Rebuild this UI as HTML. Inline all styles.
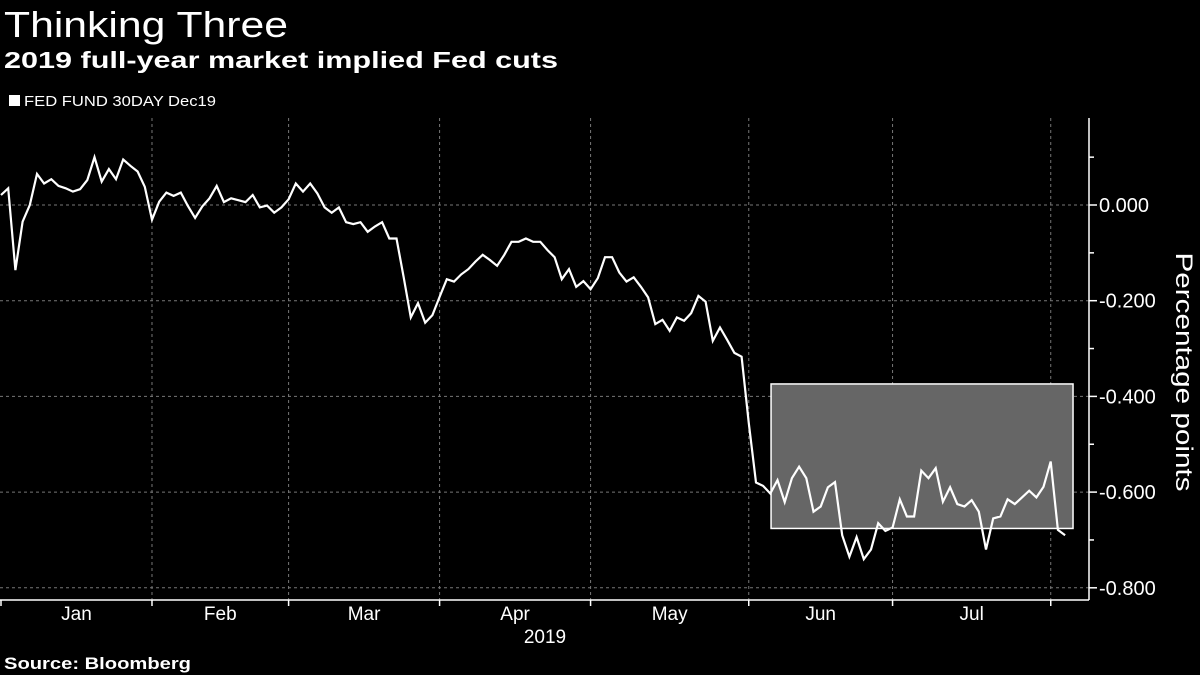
<!DOCTYPE html>
<html><head><meta charset="utf-8"><style>
html,body{margin:0;padding:0;background:#000;width:1200px;height:675px;overflow:hidden;font-family:"Liberation Sans",sans-serif;color:#fff}
svg{position:absolute;left:0;top:0}
</style></head><body>
<svg width="1200" height="675">
<text x="4" y="37" font-size="36" fill="#fff" textLength="284" lengthAdjust="spacingAndGlyphs">Thinking Three</text>
<text x="4" y="68" font-size="23" font-weight="bold" fill="#fff" textLength="554" lengthAdjust="spacingAndGlyphs">2019 full-year market implied Fed cuts</text>
<rect x="9" y="95" width="11" height="11" fill="#fff"/>
<text x="24" y="106" font-size="15" fill="#fff" textLength="192" lengthAdjust="spacingAndGlyphs">FED FUND 30DAY Dec19</text>
<g id="grid"></g>
<rect id="hl" fill="#666" stroke="#fff" stroke-width="1.5"/>
<polyline id="line" fill="none" stroke="#fff" stroke-width="2.2" stroke-linejoin="miter"/>
<g id="axes"></g>
<text transform="translate(1176,372) rotate(90)" text-anchor="middle" font-size="24" fill="#fff" textLength="239" lengthAdjust="spacingAndGlyphs">Percentage points</text>
<text x="545" y="643" text-anchor="middle" font-size="19" fill="#fff">2019</text>
<text x="4" y="669" font-size="17" font-weight="bold" fill="#fff" textLength="187" lengthAdjust="spacingAndGlyphs">Source: Bloomberg</text>
</svg>
<script>
const values=[0.021,0.035,-0.136,-0.035,0,0.065,0.045,0.054,0.040,0.035,0.028,0.033,0.052,0.100,0.049,0.075,0.054,0.095,0.082,0.070,0.038,
-0.031,0.007,0.026,0.019,0.026,-0.002,-0.027,-0.003,0.014,0.040,0.006,0.014,0.010,0.006,0.021,-0.005,-0.001,-0.016,-0.005,
0.012,0.045,0.028,0.045,0.024,-0.005,-0.016,-0.005,-0.036,-0.040,-0.036,-0.056,-0.045,-0.036,-0.070,-0.070,-0.150,-0.235,-0.205,-0.246,-0.230,
-0.192,-0.155,-0.160,-0.145,-0.134,-0.118,-0.104,-0.115,-0.127,-0.104,-0.077,-0.077,-0.070,-0.077,-0.077,-0.094,-0.109,-0.155,-0.134,-0.171,-0.159,
-0.176,-0.153,-0.109,-0.109,-0.141,-0.160,-0.151,-0.171,-0.193,-0.249,-0.240,-0.263,-0.235,-0.242,-0.226,-0.190,-0.202,-0.284,-0.256,-0.282,-0.309,-0.317,
-0.456,-0.580,-0.587,-0.603,-0.575,-0.621,-0.571,-0.547,-0.571,-0.641,-0.630,-0.590,-0.579,-0.690,-0.735,-0.694,-0.740,-0.720,
-0.665,-0.681,-0.674,-0.615,-0.651,-0.651,-0.555,-0.571,-0.550,-0.620,-0.590,-0.625,-0.630,-0.617,-0.641,-0.720,-0.655,-0.651,-0.615,-0.625,-0.611,-0.597,-0.611,-0.589,-0.536,
-0.679,-0.690];
const monthLabels=["Jan","Feb","Mar","Apr","May","Jun","Jul"];
const monthStartIdx=[0,21,40,61,82,104,124,146];
const yTicks=[0,-0.2,-0.4,-0.6,-0.8];
const yTickLabels=["0.000","-0.200","-0.400","-0.600","-0.800"];
const yMinor=[0.1,-0.1,-0.3,-0.5,-0.7];
const boxRange=[107.1,149.1,-0.374,-0.676];
const NS="http://www.w3.org/2000/svg";
const X=i=>1+i*7.19;
const Y=v=>205-v*478.5;
const grid=document.getElementById('grid'),axes=document.getElementById('axes');
function mk(p,tag,a){const e=document.createElementNS(NS,tag);for(const k in a)e.setAttribute(k,a[k]);p.appendChild(e);return e;}
yTicks.forEach((t,i)=>{
 const g=mk(grid,'line',{x1:0,x2:1089,y1:Y(t),y2:Y(t),stroke:'#777','stroke-width':1,'stroke-dasharray':'3,3'});
 
 
 const tk=mk(axes,'line',{x1:1089,x2:1097,y1:Y(t),y2:Y(t),stroke:'#fff','stroke-width':1.5});
 
 
 const tx=mk(axes,'text',{x:1099,y:Y(t)+7,'font-size':20,fill:'#fff'});
 tx.textContent=yTickLabels[i];
 
 
});
yMinor.forEach(t=>{
 const tk=mk(axes,'line',{x1:1089,x2:1094,y1:Y(t),y2:Y(t),stroke:'#fff','stroke-width':1.5});
 
 
});
monthStartIdx.forEach((m,i)=>{
 const x=X(m);
 if(i>0){const g=mk(grid,'line',{x1:x,x2:x,y1:118,y2:600,stroke:'#777','stroke-width':1,'stroke-dasharray':'3,3'});
 
 }
 const tk=mk(axes,'line',{x1:x,x2:x,y1:600,y2:606,stroke:'#fff','stroke-width':1.5});
 
 
 if(i<monthLabels.length){
  const tx=mk(axes,'text',{x:(X(m)+X(monthStartIdx[i+1]))/2,y:620,'font-size':19,fill:'#fff','text-anchor':'middle'});
  tx.textContent=monthLabels[i];
  
  
 }
});
const ax=mk(axes,'line',{x1:0,x2:1089,y1:600,y2:600,stroke:'#fff','stroke-width':1.5});


const ay=mk(axes,'line',{x1:1089,x2:1089,y1:118,y2:600,stroke:'#fff','stroke-width':1.5});


const hl=document.getElementById('hl');
hl.setAttribute('x',X(boxRange[0]));hl.setAttribute('width',X(boxRange[1])-X(boxRange[0]));
hl.setAttribute('y',Y(boxRange[2]));hl.setAttribute('height',Y(boxRange[3])-Y(boxRange[2]));
document.getElementById('line').setAttribute('points',values.map((v,i)=>X(i).toFixed(1)+','+Y(v).toFixed(1)).join(' '));
</script>
</body></html>
